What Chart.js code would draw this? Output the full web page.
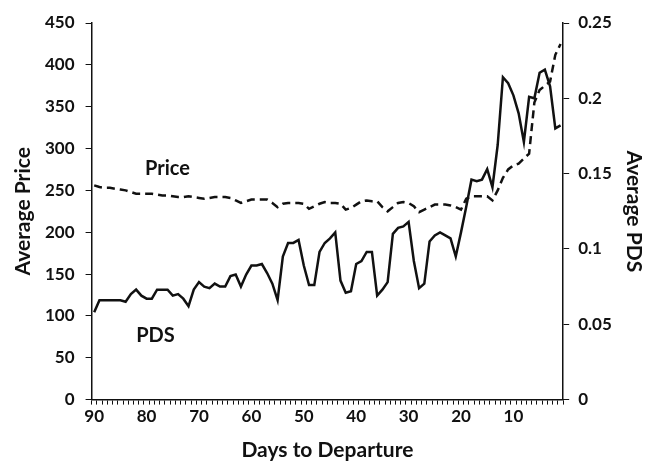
<!DOCTYPE html>
<html>
<head>
    <title>Average Price and PDS</title>
    <script src="https://cdn.jsdelivr.net/npm/chart.js@4.4.0/dist/chart.umd.min.js"></script>
    <style>
        body { margin: 0; background: #fff; }
        #wrap { width: 659px; height: 461px; }
    </style>
</head>
<body>
    <div id="wrap"><canvas id="myChart" width="659" height="461"></canvas></div>

    <script>
        // days to departure, 90 down to 1
        var days = [];
        for (var d = 90; d >= 1; d--) days.push(d);

        // average price (left axis), one value per day, 90 -> 1
        var price = [
            256, 254, 253, 253, 252, 251, 250, 248, 246, 246,
            246, 246, 245, 244, 244, 243, 242, 242, 243, 242,
            241, 240, 241, 242, 242, 242, 241, 238, 235, 237,
            239, 239, 239, 239, 235, 230, 234, 235, 235, 235,
            234, 228, 231, 234, 236, 235, 235, 234, 227, 229,
            233, 237, 238, 237, 237, 230, 225, 230, 235, 236,
            235, 231, 224, 227, 230, 233, 233, 233, 232, 230,
            227, 240, 243, 243, 243, 243, 238, 250, 265, 275,
            280, 282, 288, 294, 355, 370, 375, 380, 412, 425
        ];

        // average PDS (right axis), 90 -> 1
        var pds = [
            0.058, 0.066, 0.066, 0.066, 0.066, 0.066, 0.065, 0.070, 0.073, 0.069,
            0.067, 0.067, 0.073, 0.073, 0.073, 0.069, 0.070, 0.067, 0.062, 0.073,
            0.078, 0.075, 0.074, 0.077, 0.075, 0.075, 0.082, 0.083, 0.075, 0.083,
            0.089, 0.089, 0.090, 0.084, 0.077, 0.066, 0.095, 0.104, 0.104, 0.106,
            0.089, 0.076, 0.076, 0.098, 0.104, 0.107, 0.111, 0.079, 0.071, 0.072,
            0.090, 0.092, 0.098, 0.098, 0.069, 0.073, 0.078, 0.110, 0.114, 0.115,
            0.118, 0.092, 0.074, 0.077, 0.105, 0.109, 0.111, 0.109, 0.107, 0.095,
            0.111, 0.128, 0.146, 0.145, 0.146, 0.153, 0.141, 0.169, 0.214, 0.210,
            0.202, 0.190, 0.171, 0.201, 0.200, 0.217, 0.219, 0.208, 0.180, 0.182
        ];

        var ink = '#111';
        var font = 'Lato, "Open Sans", sans-serif';
        var tickFont = { family: font, size: 17, weight: 'bold' };
        var titleFont = { family: font, size: 21, weight: 'bold' };
        var titleFontTight = { family: font, size: 21, weight: 'bold', lineHeight: 1.0 };

        // series name labels, placed in data units (day, price)
        var seriesLabels = [
            { text: 'Price', day: 76, value: 276 },
            { text: 'PDS', day: 78.3, value: 77 }
        ];

        var labelPlugin = {
            id: 'seriesLabels',
            afterDatasetsDraw: function(chart) {
                var c = chart.ctx;
                var xs = chart.scales.x, ys = chart.scales.y;
                c.save();
                c.font = 'bold 20px ' + font;
                c.fillStyle = ink;
                c.textAlign = 'center';
                c.textBaseline = 'middle';
                seriesLabels.forEach(function(l) {
                    c.fillText(l.text, xs.getPixelForValue(90 - l.day), ys.getPixelForValue(l.value));
                });
                c.restore();
            }
        };

        var ctx = document.getElementById('myChart').getContext('2d');
        var chart = new Chart(ctx, {
            type: 'line',
            data: {
                labels: days,
                datasets: [{
                    label: 'Price',
                    data: price,
                    yAxisID: 'y',
                    borderColor: ink,
                    borderWidth: 2.5,
                    borderDash: [8, 5],
                    pointRadius: 0,
                    tension: 0,
                    fill: false
                }, {
                    label: 'PDS',
                    data: pds,
                    yAxisID: 'y1',
                    borderColor: ink,
                    borderWidth: 2.5,
                    pointRadius: 0,
                    tension: 0,
                    fill: false
                }]
            },
            options: {
                responsive: false,
                animation: false,
                layout: { padding: { top: 23, right: 2, left: 13, bottom: 0 } },
                plugins: {
                    legend: { display: false },
                    tooltip: { enabled: false }
                },
                scales: {
                    x: {
                        type: 'category',
                        offset: true,
                        grid: { offset: true, drawOnChartArea: false, color: ink, tickLength: 5, lineWidth: 1 },
                        border: { color: ink, width: 1.5 },
                        ticks: {
                            autoSkip: false,
                            maxRotation: 0,
                            color: ink,
                            font: tickFont,
                            padding: 2,
                            callback: function(v, i) { return days[i] % 10 === 0 ? String(days[i]) : ''; }
                        },
                        title: {
                            display: true, text: 'Days to Departure', color: ink,
                            font: titleFontTight,
                            padding: { top: 11, bottom: 0 }
                        }
                    },
                    y: {
                        position: 'left',
                        min: 0, max: 450,
                        grid: { drawOnChartArea: false, color: ink, tickLength: 6 },
                        border: { color: ink, width: 1.5 },
                        ticks: { stepSize: 50, color: ink, font: tickFont, padding: 11 },
                        title: { display: true, text: 'Average Price', color: ink, font: titleFontTight, padding: { top: 0, bottom: 0 } }
                    },
                    y1: {
                        position: 'right',
                        min: 0, max: 0.25,
                        grid: { drawOnChartArea: false, color: ink, tickLength: 6 },
                        border: { color: ink, width: 1.5 },
                        ticks: {
                            stepSize: 0.05, color: ink, font: tickFont, padding: 9,
                            callback: function(v) { return String(+v.toFixed(2)); }
                        },
                        title: { display: true, text: 'Average PDS', color: ink, font: titleFont, padding: { top: 11, bottom: 0 } }
                    }
                }
            },
            plugins: [labelPlugin]
        });
    </script>
</body>
</html>
